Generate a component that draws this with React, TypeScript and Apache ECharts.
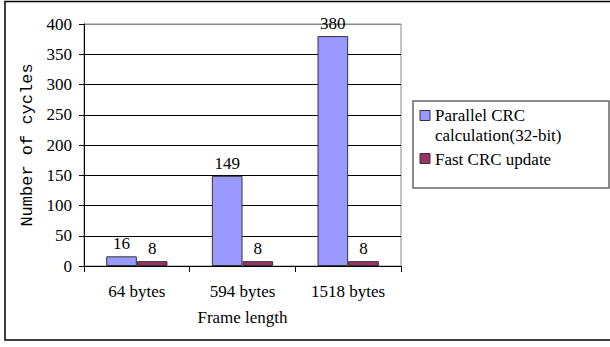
import React, { useEffect, useRef } from "react";
import * as echarts from "echarts";

const categories = ["64 bytes", "594 bytes", "1518 bytes"];
const seriesNames = ["Parallel CRC\ncalculation(32-bit)", "Fast CRC update"];
const parallelValues = [16, 149, 380];
const fastValues = [8, 8, 8];
const seriesColors = ["#9999FF", "#993366"];
const yAxisTitle = "Number of cycles";
const xAxisTitle = "Frame length";

const SERIF = "Liberation Serif";
const MONO = "Liberation Mono";

export default function App() {
  const ref = useRef<HTMLDivElement>(null);
  useEffect(() => {
    if (!ref.current) return;
    const chart = echarts.init(ref.current, null, { renderer: "svg" });
    const splitColors = ["#000", "#000", "#000", "#000", "#000", "#000", "#000", "#000", "#888"];
    chart.setOption({
      animation: false,
      backgroundColor: "#fff",
      textStyle: { fontFamily: SERIF, fontSize: 17, color: "#000" },
      grid: { left: 84, right: 209, top: 24, bottom: 81, show: true, borderColor: "#888", borderWidth: 1, backgroundColor: "transparent" },
      xAxis: {
        type: "category",
        data: categories,
        name: xAxisTitle,
        nameLocation: "middle",
        nameGap: 43,
        nameTextStyle: { fontFamily: SERIF, fontSize: 17, color: "#000" },
        axisLine: { lineStyle: { color: "#000", width: 1 } },
        axisTick: { show: true, length: 6, lineStyle: { color: "#000" } },
        axisLabel: { fontFamily: SERIF, fontSize: 17, color: "#000", margin: 17 },
      },
      yAxis: {
        type: "value",
        min: 0,
        max: 400,
        interval: 50,
        name: yAxisTitle,
        nameLocation: "middle",
        nameGap: 48,
        nameTextStyle: { fontFamily: MONO, fontSize: 17, color: "#000" },
        axisLine: { show: true, lineStyle: { color: "#000", width: 1 } },
        axisTick: { show: true, length: 5, lineStyle: { color: "#000" } },
        axisLabel: { fontFamily: SERIF, fontSize: 17, color: "#000", margin: 12 },
        splitLine: { show: true, lineStyle: { color: splitColors, width: 1 } },
      },
      series: [
        {
          type: "bar",
          name: seriesNames[0],
          data: parallelValues,
          barGap: "0%",
          barCategoryGap: "42%",
          itemStyle: { color: seriesColors[0], borderColor: "#333", borderWidth: 1 },
          label: { show: true, position: "top", distance: 4, fontFamily: SERIF, fontSize: 17, color: "#000" },
        },
        {
          type: "bar",
          name: seriesNames[1],
          data: fastValues,
          barGap: "0%",
          barCategoryGap: "42%",
          itemStyle: { color: seriesColors[1], borderColor: "#333", borderWidth: 1 },
          label: { show: true, position: "top", distance: 4, fontFamily: SERIF, fontSize: 17, color: "#000" },
        },
      ],
      graphic: [
        {
          type: "rect",
          shape: { x: 5, y: 1.5, width: 620, height: 338.5 },
          style: { fill: "none", stroke: "#000", lineWidth: 1.5 },
          silent: true,
          z: 10,
        },
        {
          type: "rect",
          shape: { x: 413, y: 101, width: 196, height: 87 },
          style: { fill: "#fff", stroke: "#666", lineWidth: 1.5 },
          z: 10,
        },
        {
          type: "rect",
          shape: { x: 420, y: 110.5, width: 10, height: 10 },
          style: { fill: seriesColors[0], stroke: "#333", lineWidth: 1 },
          z: 11,
        },
        {
          type: "text",
          x: 435,
          y: 105,
          style: { text: seriesNames[0], fontFamily: SERIF, fontSize: 17, fill: "#000", lineHeight: 20, verticalAlign: "top" },
          z: 11,
        },
        {
          type: "rect",
          shape: { x: 420, y: 153.5, width: 10, height: 10 },
          style: { fill: seriesColors[1], stroke: "#333", lineWidth: 1 },
          z: 11,
        },
        {
          type: "text",
          x: 435,
          y: 149,
          style: { text: seriesNames[1], fontFamily: SERIF, fontSize: 17, fill: "#000", lineHeight: 20, verticalAlign: "top" },
          z: 11,
        },
      ],
    });
    return () => chart.dispose();
  }, []);
  return <div ref={ref} style={{ position: "fixed", left: 0, top: 0, width: 610, height: 347 }} />;
}
